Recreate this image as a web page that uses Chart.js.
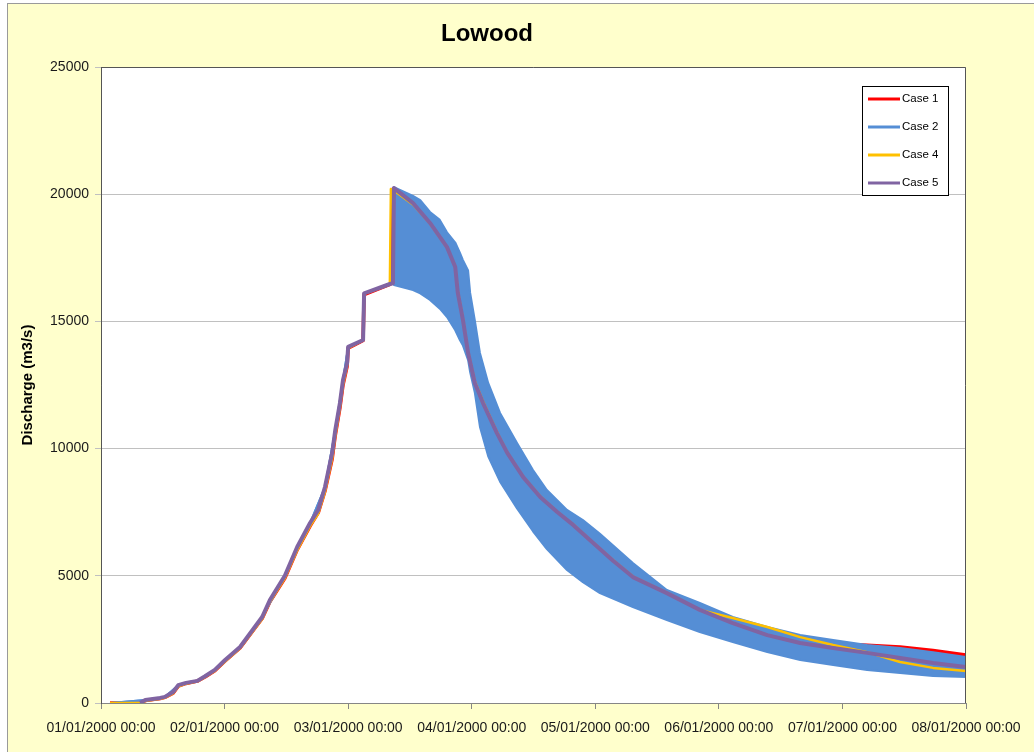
<!DOCTYPE html>
<html>
<head>
<meta charset="utf-8">
<title>Lowood</title>
<script src="https://cdn.jsdelivr.net/npm/chart.js@4.4.1/dist/chart.umd.min.js"></script>
<style>
  html, body { margin: 0; padding: 0; background: #fff; }
  #frame {
    position: absolute; left: 7px; top: 3px; width: 1040px; height: 760px;
    background: #ffffcc; border-left: 1px solid #9a9a9a; border-top: 1px solid #9a9a9a;
  }
  #chart { position: absolute; left: 0; top: 0; }
</style>
</head>
<body>
<div id="frame"><canvas id="chart" width="1026" height="748"></canvas></div>
<script>
// hours since 01/01/2000 00:00
const DAY_LABELS = [
  '01/01/2000 00:00', '02/01/2000 00:00', '03/01/2000 00:00', '04/01/2000 00:00',
  '05/01/2000 00:00', '06/01/2000 00:00', '07/01/2000 00:00', '08/01/2000 00:00',
];
const Y_TICKS = [0, 5000, 10000, 15000, 20000, 25000];

// time grid for Case 1, 4, 5
const HOURS = [
  1.75, 7.6, 8.6, 11.5, 12.4, 14.0, 15.0, 16.5, 18.7, 20.2, 22.1, 24.1, 27.0, 31.3, 32.8,
  35.7, 38.1, 40.6, 42.2, 43.5, 44.9, 45.5, 46.4, 47.0, 47.8, 48.0, 50.9, 51.1, 56.1, 56.3,
  56.7, 56.9, 60.6, 63.9, 67.2, 68.8, 69.3, 70.3, 71.3, 72.6, 74.2, 76.9, 78.9, 82.0, 85.3,
  88.6, 91.7, 95.0, 99.4, 103.3, 109.9, 116.3, 122.7, 129.4, 135.8, 142.2, 148.8, 155.2, 161.6, 168,
];
const CASE1 = [
  0, 0, 95, 180, 220, 390, 660, 770, 860, 1025, 1270, 1650, 2160, 3320, 3980,
  4900, 6020, 6950, 7480, 8330, 9600, 10520, 11600, 12500, 13230, 13950, 14250, 16050, 16460, 16480,
  20200, 20150, 19600, 18800, 17900, 17200, 16500, 15300, 14000, 12800, 11900, 10700, 9900, 8950, 8150,
  7550, 7050, 6420, 5650, 5000, 4380, 3750, 3250, 2850, 2450, 2330, 2270, 2200, 2060, 1890,
];
const CASE4 = [
  0, 0, 80, 170, 210, 380, 650, 760, 850, 1020, 1260, 1640, 2150, 3300, 3980,
  4900, 6000, 6950, 7450, 8300, 9600, 10500, 11600, 12500, 13250, 13950, 14260, 16080, 16460, 20200,
  20180, 20150, 19600, 18850, 17900, 17150, 16200, 15100, 13800, 12650, 11850, 10650, 9850, 8900, 8120,
  7520, 7020, 6410, 5620, 4970, 4330, 3660, 3340, 2990, 2590, 2280, 2000, 1610, 1380, 1260,
];
const CASE5 = [
  null, 0, 120, 200, 240, 430, 700, 790, 870, 1050, 1300, 1690, 2200, 3380, 4050,
  5000, 6130, 7075, 7590, 8490, 9830, 10730, 11790, 12700, 13360, 14000, 14270, 16100, 16470, 16480,
  16500, 20240, 19650, 18870, 17920, 17140, 16120, 15050, 13760, 12580, 11790, 10610, 9830, 8880, 8100,
  7510, 7000, 6400, 5600, 4950, 4320, 3660, 3140, 2670, 2360, 2160, 1970, 1770, 1570, 1415,
];

// Case 2 oscillates fast: kept as its upper and lower envelope
const CASE2_HOURS = [
  1.75, 8.6, 12.4, 15.0, 18.7, 22.1, 27.0, 31.3, 35.7, 40.6, 43.5, 45.5, 47.0, 48.0, 50.9, 51.1, 56.7,
  56.9, 60.6, 62.0, 63.9, 65.8, 67.2, 68.8, 69.7, 70.3, 71.3, 71.7, 72.6, 73.6, 75.2, 77.5, 80.8,
  83.9, 86.6, 90.5, 93.6, 96.9, 103.3, 109.9, 116.3, 122.7, 129.4, 135.8, 142.2, 148.8, 155.2, 161.6, 168,
];
const CASE2_HIGH = [
  0, 120, 240, 700, 870, 1300, 2200, 3380, 5000, 7075, 8490, 10730, 12700, 14000, 14270, 16100, 16500,
  20280, 19930, 19770, 19300, 18990, 18500, 18100, 17700, 17410, 17000, 16120, 15050, 13760, 12580, 11400, 10220,
  9160, 8370, 7590, 7190, 6650, 5500, 4440, 3930, 3380, 2990, 2670, 2480, 2280, 2160, 2000, 1810,
];
const CASE2_LOW = [
  0, 120, 240, 700, 870, 1300, 2200, 3380, 5000, 7075, 8490, 10730, 12700, 14000, 14270, 16100, 16500,
  16430, 16230, 16100, 15840, 15500, 15170, 14650, 14270, 14050, 13480, 13000, 12200, 10850, 9700, 8700, 7650,
  6750, 6050, 5230, 4750, 4320, 3770, 3260, 2790, 2400, 2000, 1690, 1490, 1300, 1180, 1060, 1020,
];

const RED = '#ff0000';
const BLUE = '#558ed5';
const ORANGE = '#ffc000';
const PURPLE = '#8064a2';

function toPoints(xs, ys) {
  return xs.map((x, i) => ({ x, y: ys[i] }));
}

// white plot area + dark frame + legend box inside the plot
const plotExtras = {
  id: 'plotExtras',
  beforeDraw(chart) {
    const { ctx, chartArea: a } = chart;
    ctx.save();
    ctx.fillStyle = '#fff';
    ctx.fillRect(a.left, a.top, a.right - a.left, a.bottom - a.top);
    ctx.restore();
  },
  afterDraw(chart) {
    const { ctx, chartArea: a } = chart;
    ctx.save();
    ctx.strokeStyle = '#555';
    ctx.lineWidth = 1;
    ctx.beginPath();
    ctx.moveTo(a.left + 0.5, a.bottom);
    ctx.lineTo(a.left + 0.5, a.top + 0.5);
    ctx.lineTo(a.right - 0.5, a.top + 0.5);
    ctx.lineTo(a.right - 0.5, a.bottom);
    ctx.stroke();

    const bx = a.right - 104;
    const by = a.top + 19;
    ctx.fillStyle = '#fff';
    ctx.fillRect(bx, by, 86, 109);
    ctx.strokeStyle = '#000';
    ctx.strokeRect(bx + 0.5, by + 0.5, 86, 109);
    ctx.font = '11.5px "Liberation Sans", Arial, sans-serif';
    ctx.textBaseline = 'middle';
    ctx.textAlign = 'left';
    let row = 0;
    chart.data.datasets.forEach((ds) => {
      if (ds.noLegend) return;
      const y = by + 13 + row * 28;
      ctx.strokeStyle = ds.borderColor;
      ctx.lineWidth = 3;
      ctx.beginPath();
      ctx.moveTo(bx + 6, y);
      ctx.lineTo(bx + 38, y);
      ctx.stroke();
      ctx.fillStyle = '#000';
      ctx.fillText(ds.label, bx + 40, y);
      row++;
    });
    ctx.restore();
  },
};

const datasets = [
  { label: 'Case 1', data: toPoints(HOURS, CASE1), borderColor: RED, borderWidth: 3.5, order: 4 },
  { label: 'Case 2', data: toPoints(CASE2_HOURS, CASE2_HIGH), borderColor: BLUE, borderWidth: 2, order: 3 },
  {
    label: 'Case 2 low', noLegend: true, data: toPoints(CASE2_HOURS, CASE2_LOW),
    borderColor: BLUE, borderWidth: 2, backgroundColor: BLUE, fill: 1, order: 3,
  },
  { label: 'Case 4', data: toPoints(HOURS, CASE4), borderColor: ORANGE, borderWidth: 2.5, order: 1 },
  { label: 'Case 5', data: toPoints(HOURS, CASE5), borderColor: PURPLE, borderWidth: 4, order: 0 },
];

const FONT = '"Liberation Sans", Arial, sans-serif';

// eslint-disable-next-line no-undef
new Chart(document.querySelector('#chart'), {
  type: 'line',
  data: { datasets },
  plugins: [plotExtras],
  options: {
    responsive: false,
    animation: false,
    devicePixelRatio: 1,
    layout: { padding: { top: 0, right: 68, bottom: 0, left: 0 } },
    elements: {
      point: { radius: 0 },
      line: { tension: 0, borderJoinStyle: 'round', fill: false },
    },
    plugins: {
      legend: { display: false },
      tooltip: { enabled: false },
      title: {
        display: true,
        text: 'Lowood',
        color: '#000',
        font: { family: FONT, size: 24, weight: 'bold' },
        padding: { top: 16, bottom: 18.2 },
      },
    },
    scales: {
      x: {
        type: 'linear',
        min: 0,
        max: 168,
        afterFit: (s) => { s.height = 49; },
        ticks: {
          stepSize: 24,
          autoSkip: false,
          maxRotation: 0,
          padding: 11,
          color: '#1a1a1a',
          font: { family: FONT, size: 14 },
          callback: (v) => DAY_LABELS[Math.round(v / 24)],
        },
        grid: { drawOnChartArea: false, drawTicks: true, tickLength: 6, color: '#868686' },
        border: { display: true, color: '#868686' },
      },
      y: {
        min: 0,
        max: 25000,
        afterFit: (s) => { s.width = 93; },
        afterBuildTicks: (s) => { s.ticks = Y_TICKS.map((value) => ({ value })); },
        ticks: {
          padding: 6,
          color: '#1a1a1a',
          font: { family: FONT, size: 14 },
          callback: (v) => String(v),
        },
        grid: { color: '#c0c0c0', tickLength: 6 },
        border: { display: true, color: '#555' },
        title: {
          display: true,
          text: 'Discharge (m3/s)',
          color: '#000',
          font: { family: FONT, size: 15, weight: 'bold' },
          padding: { top: 11, bottom: 0 },
        },
      },
    },
  },
});
</script>
</body>
</html>
